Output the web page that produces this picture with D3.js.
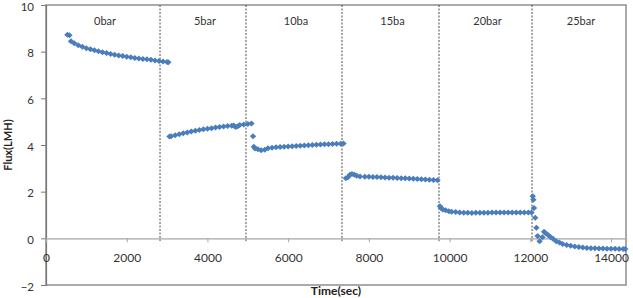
<!DOCTYPE html>
<html><head><meta charset="utf-8">
<script src="https://cdn.jsdelivr.net/npm/d3@7"></script>
<style>
html,body{margin:0;padding:0;background:#fff;}
svg{display:block;font-family:Lato,"Open Sans",sans-serif;}
</style></head>
<body><svg id="c" width="633" height="298"></svg>
<script>
// ---- data ----
const times = [
 // 0 bar
 530,580,620,700,800,900,1000,1100,1200,1300,1400,1500,1600,1700,1800,1900,2000,2100,2200,2300,2400,2500,2600,2700,2800,2900,3000,3030,
 // 5 bar
 3060,3100,3200,3300,3400,3500,3600,3700,3800,3900,4000,4100,4200,4300,4400,4500,4600,4650,4700,4750,4800,4900,5000,5090,
 // 10 bar
 5130,5150,5180,5250,5330,5420,5500,5600,5700,5800,5900,6000,6100,6200,6300,6400,6500,6600,6700,6800,6900,7000,7100,7200,7300,7370,
 // 15 bar
 7430,7480,7530,7580,7640,7700,7780,7900,8000,8100,8200,8300,8400,8500,8600,8700,8800,8900,9000,9100,9200,9300,9400,9500,9600,9700,
 // 20 bar
 9760,9790,9830,9900,9980,10050,10150,10250,10350,10450,10550,10650,10750,10850,10950,11050,11150,11250,11350,11450,11550,11650,11750,11850,11950,12030,
 // 25 bar
 12060,12075,12090,12120,12150,12180,12230,12300,12340,12380,12440,12500,12560,12640,12720,12800,12900,13000,13100,13200,13300,13400,13500,13600,13700,13800,13900,14000,14100,14200,14300,14350
];
const flux = [
 8.72,8.70,8.45,8.36,8.28,8.21,8.15,8.10,8.06,8.02,7.98,7.94,7.90,7.87,7.84,7.81,7.78,7.76,7.73,7.71,7.69,7.67,7.65,7.62,7.60,7.58,7.56,7.55,
 4.36,4.38,4.42,4.46,4.50,4.54,4.58,4.61,4.64,4.67,4.70,4.72,4.75,4.77,4.79,4.81,4.83,4.84,4.77,4.80,4.86,4.88,4.90,4.92,
 4.37,3.92,3.85,3.82,3.78,3.80,3.86,3.88,3.90,3.91,3.92,3.94,3.95,3.96,3.97,3.98,3.99,4.00,4.01,4.02,4.03,4.03,4.04,4.05,4.05,4.06,
 2.58,2.62,2.72,2.76,2.72,2.68,2.65,2.64,2.64,2.63,2.63,2.62,2.61,2.60,2.60,2.59,2.58,2.57,2.56,2.55,2.54,2.53,2.52,2.51,2.50,2.49,
 1.38,1.30,1.24,1.20,1.16,1.14,1.13,1.11,1.10,1.10,1.09,1.10,1.10,1.10,1.10,1.11,1.11,1.11,1.11,1.11,1.11,1.11,1.11,1.11,1.11,1.11,
 1.80,1.65,1.30,0.88,0.45,0.10,-0.12,0.05,0.28,0.22,0.14,0.06,-0.02,-0.12,-0.18,-0.24,-0.29,-0.32,-0.35,-0.37,-0.39,-0.41,-0.42,-0.43,-0.44,-0.44,-0.45,-0.45,-0.45,-0.46,-0.46,-0.46
];
const stageBoundaries = [2825, 4955, 7334, 9737, 12042];
const stageLabels = ["0bar","5bar","10ba","15ba","20bar","25bar"];
const xTicks = [0,2000,4000,6000,8000,10000,12000,14000];
const yTicks = [-2,0,2,4,6,8,10];
const xDomain = [0, 14370];
const yDomain = [-2, 10];

// ---- layout ----
const svg = d3.select("#c");
const L = 46, R = 626, T = 5, B = 285;
const x = d3.scaleLinear().domain(xDomain).range([L, R]);
const y = d3.scaleLinear().domain(yDomain).range([B, T]);
const blue = "#4a7ebb";

// plot area border
svg.append("rect").attr("x", L).attr("y", T).attr("width", R - L).attr("height", B - T)
  .attr("fill", "none").attr("stroke", "#8e8e8e").attr("stroke-width", 1.5);

// y axis
const ya = svg.append("g").attr("transform", `translate(${L},0)`)
  .call(d3.axisLeft(y).tickValues(yTicks).tickSize(5).tickPadding(7).tickFormat(d3.format("d")));
ya.select(".domain").attr("stroke", "#7a7a7a").attr("stroke-width", 1.2);
ya.selectAll(".tick line").attr("stroke", "#7a7a7a");
ya.selectAll("text").attr("font-size", 11.5).attr("fill", "#333").attr("font-family", "Lato")
  .attr("dy", "0.45em");

// x axis at y=0
const xa = svg.append("g").attr("transform", `translate(0,${y(0)})`)
  .call(d3.axisBottom(x).tickValues(xTicks).tickSize(4).tickPadding(11).tickFormat(d3.format("d")));
xa.select(".domain").attr("stroke", "#a6a6a6").attr("stroke-width", 1.2);
xa.selectAll(".tick line").attr("stroke", "#a6a6a6");
xa.selectAll("text").attr("font-size", 12).attr("fill", "#333").attr("font-family", "Lato");

// stage boundaries
svg.append("g").selectAll("line").data(stageBoundaries).join("line")
  .attr("x1", d => x(d)).attr("x2", d => x(d))
  .attr("y1", y(10)).attr("y2", y(-0.12))
  .attr("stroke", "#4d4d4d").attr("stroke-width", 1).attr("stroke-dasharray", "2,1.5");

// stage labels (centered between boundaries)
const edges = [xDomain[0], ...stageBoundaries, xDomain[1]];
svg.append("g").selectAll("text").data(stageLabels).join("text")
  .attr("x", (d, i) => x((edges[i] + edges[i + 1]) / 2) + 2)
  .attr("y", 25)
  .attr("text-anchor", "middle").attr("font-size", 11).attr("fill", "#333")
  .text(d => d);

// points
const pts = times.map((t, i) => [t, flux[i]]);
const rx = 3.2, ry = 3.0;
svg.append("g").selectAll("path").data(pts).join("path")
  .attr("d", d => { const cx = x(d[0]), cy = y(d[1]);
    return `M${cx},${cy - ry}L${cx + rx},${cy}L${cx},${cy + ry}L${cx - rx},${cy}Z`; })
  .attr("fill", blue);

// axis titles
svg.append("text").attr("transform", `translate(12,${(T + B) / 2}) rotate(-90)`)
  .attr("text-anchor", "middle").attr("font-size", 11).attr("font-weight", "bold").attr("fill", "#222")
  .text("Flux(LMH)");
svg.append("text").attr("x", (L + R) / 2).attr("y", 294.5)
  .attr("text-anchor", "middle").attr("font-size", 12).attr("font-weight", "bold").attr("fill", "#222")
  .text("Time(sec)");
</script></body></html>
